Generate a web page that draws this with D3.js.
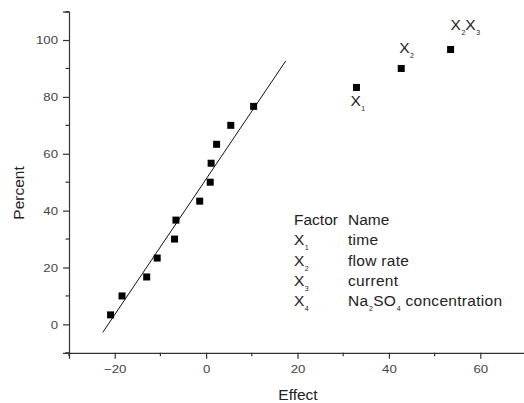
<!DOCTYPE html>
<html>
<head>
<meta charset="utf-8">
<script src="https://cdn.jsdelivr.net/npm/d3@7"></script>
<style>
  html, body { margin: 0; padding: 0; background: #fff; }
  svg { display: block; font-family: Arial, "Liberation Sans", sans-serif; }
</style>
</head>
<body>
<div id="chart"></div>
<script>
// effects (x) and normal percent (y)
const effects = [-20.9, -18.4, -13.0, -10.7, -6.9, -6.6, -1.4, 0.9, 1.1, 2.3, 5.4, 10.4, 32.9, 42.7, 53.5]
const percents = [3.33, 10, 16.67, 23.33, 30, 36.67, 43.33, 50, 56.67, 63.33, 70, 76.67, 83.33, 90, 96.67]

// fitted normal line end points
const lineX = [-22.6, 17.4]
const lineY = [-2.8, 92.6]

// labelled points
const pointLabels = [
  { x: 32.9, y: 83.33, parts: [['X', '1']], dx: -6, dy: 19 },
  { x: 42.7, y: 90, parts: [['X', '2']], dx: -2, dy: -15 },
  { x: 53.5, y: 96.67, parts: [['X', '2'], ['X', '3']], dx: 0, dy: -20 },
]

const xTicks = [-20, 0, 20, 40, 60]
const yTicks = [0, 20, 40, 60, 80, 100]
const xMinor = [-30, -10, 10, 30, 50]
const yMinor = [-10, 10, 30, 50, 70, 90, 110]

const factorSyms = ['1', '2', '3', '4']
const factorNames = [
  [['time']],
  [['flow rate']],
  [['current']],
  [['Na', '2'], ['SO', '4'], [' concentration']],
]

const width = 524, height = 403

const svg = d3.select('#chart').append('svg')
  .attr('width', width)
  .attr('height', height)

const x = d3.scaleLinear().domain([-30, 70]).range([69, 526])
const y = d3.scaleLinear().domain([-10, 110]).range([352.8, 11.6])

const axisColor = '#333'

function styleTicks(g) {
  g.select('.domain').attr('stroke', axisColor).attr('stroke-width', 1.2)
  g.selectAll('.tick line').attr('stroke', axisColor).attr('stroke-width', 1.2)
  g.selectAll('.tick text')
    .attr('fill', '#444')
    .attr('font-size', 11.5)
    .attr('font-family', 'Arial, "Liberation Sans", sans-serif')
}

// axes
const gx = svg.append('g')
  .attr('transform', `translate(0,${y(-10)})`)
  .call(d3.axisBottom(x).tickValues(xTicks).tickSize(6).tickPadding(6).tickFormat(d3.format('d')))
styleTicks(gx)
gx.selectAll('.tick text').attr('transform', 'scale(1.15,1)')

svg.append('g')
  .selectAll('line')
  .data(xMinor)
  .join('line')
  .attr('x1', d => x(d)).attr('x2', d => x(d))
  .attr('y1', y(-10)).attr('y2', y(-10) + 3.5)
  .attr('stroke', axisColor).attr('stroke-width', 1.2)

const gy = svg.append('g')
  .attr('transform', `translate(${x(-30)},0)`)
  .call(d3.axisLeft(y).tickValues(yTicks).tickSize(6).tickPadding(5).tickFormat(d3.format('d')))
styleTicks(gy)
gy.selectAll('.tick text').attr('transform', 'translate(-11,0) scale(1.15,1) translate(11,0)')

svg.append('g')
  .selectAll('line')
  .data(yMinor)
  .join('line')
  .attr('x1', x(-30) - 3.5).attr('x2', x(-30))
  .attr('y1', d => y(d)).attr('y2', d => y(d))
  .attr('stroke', axisColor).attr('stroke-width', 1.2)

// axis titles
svg.append('text')
  .attr('x', 298).attr('y', 400)
  .attr('text-anchor', 'middle')
  .attr('font-size', 15.5)
  .attr('fill', '#222')
  .text('Effect')

svg.append('text')
  .attr('transform', 'translate(24,193) rotate(-90)')
  .attr('text-anchor', 'middle')
  .attr('font-size', 15.5)
  .attr('fill', '#222')
  .text('Percent')

// fitted line
svg.append('line')
  .attr('x1', x(lineX[0])).attr('y1', y(lineY[0]))
  .attr('x2', x(lineX[1])).attr('y2', y(lineY[1]))
  .attr('stroke', '#111').attr('stroke-width', 1)

// points
const sq = 7
svg.append('g')
  .selectAll('rect')
  .data(effects.map((e, i) => ({ e, p: percents[i] })))
  .join('rect')
  .attr('x', d => x(d.e) - sq / 2)
  .attr('y', d => y(d.p) - sq / 2)
  .attr('width', sq).attr('height', sq)
  .attr('fill', '#000')

// subscripted text: each part is [main, sub]
function addSub(textSel, parts, mainSize, subSize) {
  const subDrop = 5
  let lowered = false
  parts.forEach(([main, sub]) => {
    textSel.append('tspan')
      .attr('font-size', mainSize)
      .attr('dy', lowered ? -subDrop : 0)
      .text(main)
    lowered = false
    if (sub) {
      textSel.append('tspan')
        .attr('font-size', subSize)
        .attr('dx', 0.5)
        .attr('dy', subDrop)
        .text(sub)
      lowered = true
    }
  })
}

// point labels
pointLabels.forEach(lb => {
  const t = svg.append('text')
    .attr('x', x(lb.x) + lb.dx)
    .attr('y', y(lb.y) + lb.dy)
    .attr('fill', '#222')
  addSub(t, lb.parts, 15.5, 7)
})

// legend table
const legX1 = 294, legX2 = 348, legY0 = 225, rowH = 20.3
svg.append('text').attr('x', legX1).attr('y', legY0).attr('font-size', 15.5).attr('fill', '#222').text('Factor')
svg.append('text').attr('x', legX2).attr('y', legY0).attr('font-size', 15.5).attr('fill', '#222').text('Name')

factorSyms.forEach((s, i) => {
  const yy = legY0 + rowH * (i + 1)
  const t1 = svg.append('text').attr('x', legX1).attr('y', yy).attr('fill', '#222')
  addSub(t1, [['X', s]], 15.5, 7)
  const t2 = svg.append('text').attr('x', legX2).attr('y', yy).attr('fill', '#222')
    .attr('letter-spacing', 0.3)
  addSub(t2, factorNames[i], 15.5, 7)
})
</script>
</body>
</html>
